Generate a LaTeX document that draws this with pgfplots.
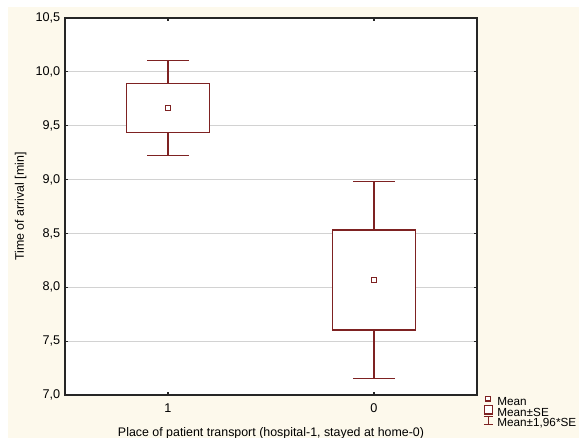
\documentclass[border=0pt]{standalone}
\usepackage{pgfplots}
\pgfplotsset{compat=1.18}
\usepackage{fontspec}
\setmainfont{Liberation Sans}
\usetikzlibrary{backgrounds}

\definecolor{boxred}{HTML}{7E2222}
\definecolor{cream}{HTML}{FDF9EC}
\definecolor{gridgray}{HTML}{D2D2D2}

\begin{document}
\begin{tikzpicture}
\useasboundingbox (-48.75pt,-32.25pt) rectangle (385.5pt,296.25pt);
\begin{axis}[
  scale only axis,
  width=309pt, height=282.75pt,
  xmin=0.5, xmax=2.5,
  ymin=7.0, ymax=10.5,
  xtick={1,2}, xticklabels={1,0},
  ytick={7.0,7.5,...,10.5},
  ymajorgrids=true,
  grid style={gridgray, line width=0.8pt},
  axis line style={black!85, line width=0.9pt},
  tick style={black!85, line width=0.8pt},
  major tick length=2.5pt,
  tick align=inside,
  axis background/.style={fill=white},
  ticklabel style={font=\fontsize{9.5}{10}\selectfont},
  label style={font=\fontsize{9.3}{10}\selectfont},
  yticklabel style={/pgf/number format/.cd, fixed, fixed zerofill, precision=1, use comma, assume math mode=true},
  xticklabel style={yshift=-3pt},
  xlabel={Place of patient transport (hospital-1, stayed at home-0)},
  ylabel={Time of arrival [min]},
  xlabel style={yshift=-4pt},
  ylabel style={yshift=0pt},
  legend cell align=left,
  legend style={draw=none, fill=none, at={(1,0)}, anchor=north west,
    xshift=4.5pt, yshift=-0.5pt, inner sep=0pt,
    font=\fontsize{8.8}{8.8}\selectfont, row sep=-1.8pt,
    nodes={inner sep=0pt, text height=6pt, text depth=1.5pt},
    /tikz/every odd column/.append style={column sep=3pt}},
]
% whiskers: mean +-1.96*SE (group "1" at x=1, group "0" at x=2)
\addplot[forget plot, boxred, line width=1pt, unbounded coords=jump]
  coordinates {(0.9,10.104)(1.1,10.104) (1,nan) (1,10.104)(1,9.222) (1,nan) (0.9,9.222)(1.1,9.222)};
\addplot[forget plot, boxred, line width=1pt, unbounded coords=jump]
  coordinates {(1.9,8.980)(2.1,8.980) (2,nan) (2,8.980)(2,7.154) (2,nan) (1.9,7.154)(2.1,7.154)};
% boxes: mean +-SE
\addplot[forget plot, boxred, line width=1pt, fill=white]
  coordinates {(0.8,9.439)(1.2,9.439)(1.2,9.894)(0.8,9.894)} -- cycle;
\addplot[forget plot, boxred, line width=1pt, fill=white]
  coordinates {(1.8,7.603)(2.2,7.603)(2.2,8.532)(1.8,8.532)} -- cycle;
% means
\addplot[forget plot, only marks, mark=square, mark size=1.9pt,
  mark options={draw=boxred, fill=white, line width=0.8pt}]
  coordinates {(1,9.661) (2,8.067)};

\addlegendimage{legend image code/.code={
  \draw[boxred, line width=0.8pt, fill=white] (1.5pt,0.9pt) rectangle (4.9pt,4.3pt);
  \path (0pt,0pt) (6.8pt,0pt);}}
\addlegendentry{Mean}
\addlegendimage{legend image code/.code={
  \draw[boxred, line width=0.8pt, fill=white] (0.3pt,-0.5pt) rectangle (6.3pt,6pt);}}
\addlegendentry{Mean±SE}
\addlegendimage{legend image code/.code={
  \draw[boxred, line width=0.8pt] (0pt,-0.3pt) -- (6.8pt,-0.3pt)
    (3.4pt,-0.3pt) -- (3.4pt,5.6pt) (0pt,5.6pt) -- (6.8pt,5.6pt);}}
\addlegendentry{Mean±1,96*SE}
\end{axis}
\begin{scope}[on background layer]
  \fill[white] (-48.75pt,-32.25pt) rectangle (385.5pt,296.25pt);
  \fill[cream] (-42.75pt,-32.25pt) rectangle (385.5pt,291pt);
\end{scope}
\end{tikzpicture}
\end{document}
